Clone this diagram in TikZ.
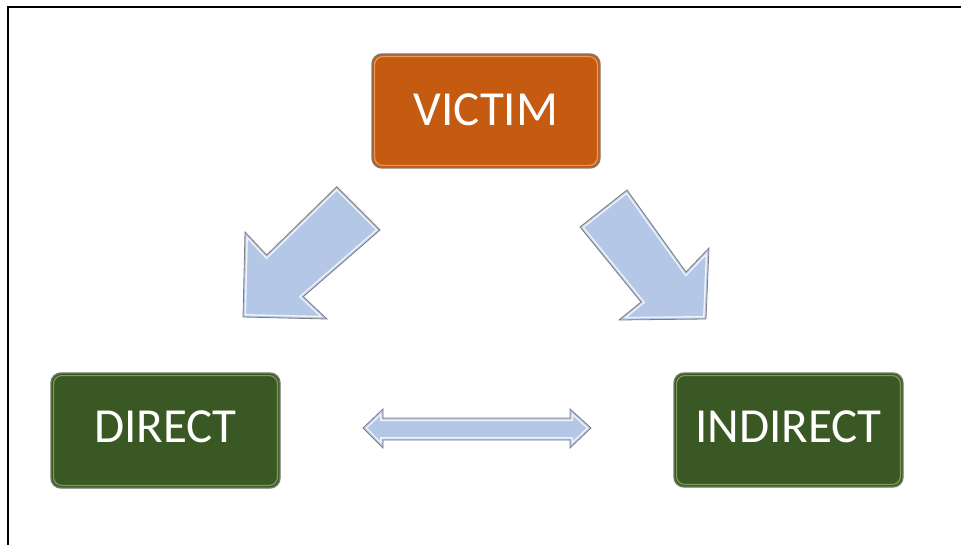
\documentclass[tikz,border=0pt]{standalone}
\usepackage{fontspec}
\setmainfont{Carlito}

\definecolor{victimfill}{HTML}{C55A11}
\definecolor{victimedge}{HTML}{8A7767}
\definecolor{victimglow}{HTML}{E89A5E}
\definecolor{greenfill}{HTML}{3A5824}
\definecolor{greenedge}{HTML}{6F7C63}
\definecolor{greenglow}{HTML}{7E9A62}
\definecolor{arrowfill}{HTML}{B4C7E7}
\definecolor{arrowedge}{HTML}{7F7F7F}

% block shape with a light inner bevel band and a grey outline
\newcommand\bevelshape[1]{%
  \begin{scope}
    \clip #1;
    \fill[arrowfill] #1;
    \draw[white, opacity=.8, line width=6pt, line join=miter] #1;
    \draw[arrowfill, line width=3pt, line join=miter] #1;
  \end{scope}
  \draw[arrowedge, line width=.8pt, line join=miter] #1;
}

\begin{document}
\begin{tikzpicture}[x=1pt, y=-1pt,
  box/.style={rounded corners=10pt, inner sep=0pt, line width=1.4pt,
    text=white, font=\fontsize{49}{58}\selectfont},
  bevel/.style={path picture={%
    \draw[#1, line width=1.2pt, rounded corners=8pt]
      ([shift={(2.6pt,-2.6pt)}]path picture bounding box.north west) rectangle
      ([shift={(-2.6pt,2.6pt)}]path picture bounding box.south east);}},
]
\useasboundingbox (0,0) rectangle (961,545);

% frame
\draw[line width=2pt] (8,545) -- (8,7) -- (961,7);

% boxes
\node[box, fill=victimfill, draw=victimedge, bevel=victimglow,
      minimum width=228pt, minimum height=114pt] (victim) at (486,111) {\raisebox{2pt}{VICTIM}};
\node[box, fill=greenfill, draw=greenedge, bevel=greenglow,
      minimum width=229pt, minimum height=115pt] (direct) at (165.5,430.5) {\raisebox{8pt}{DIRECT}};
\node[box, fill=greenfill, draw=greenedge, bevel=greenglow,
      minimum width=229pt, minimum height=114pt] (indirect) at (788.5,430) {\raisebox{7pt}{INDIRECT}};

% arrow towards DIRECT
\bevelshape{(336.7,186.7) -- (380,230) -- (303.3,296.7) -- (327,319) -- (243,317) -- (245,232) -- (266.7,255) -- cycle}

% arrow towards INDIRECT
\bevelshape{(627,190) -- (686,272) -- (709,248) -- (706,319) -- (619,320) -- (641,302) -- (580,227) -- cycle}

% two-headed arrow between DIRECT and INDIRECT
\bevelshape{(363,428) -- (383,409) -- (383,418) -- (570,418) -- (570,409) -- (591,428) -- (570,448) -- (570,440) -- (383,440) -- (383,448) -- cycle}
\end{tikzpicture}
\end{document}
